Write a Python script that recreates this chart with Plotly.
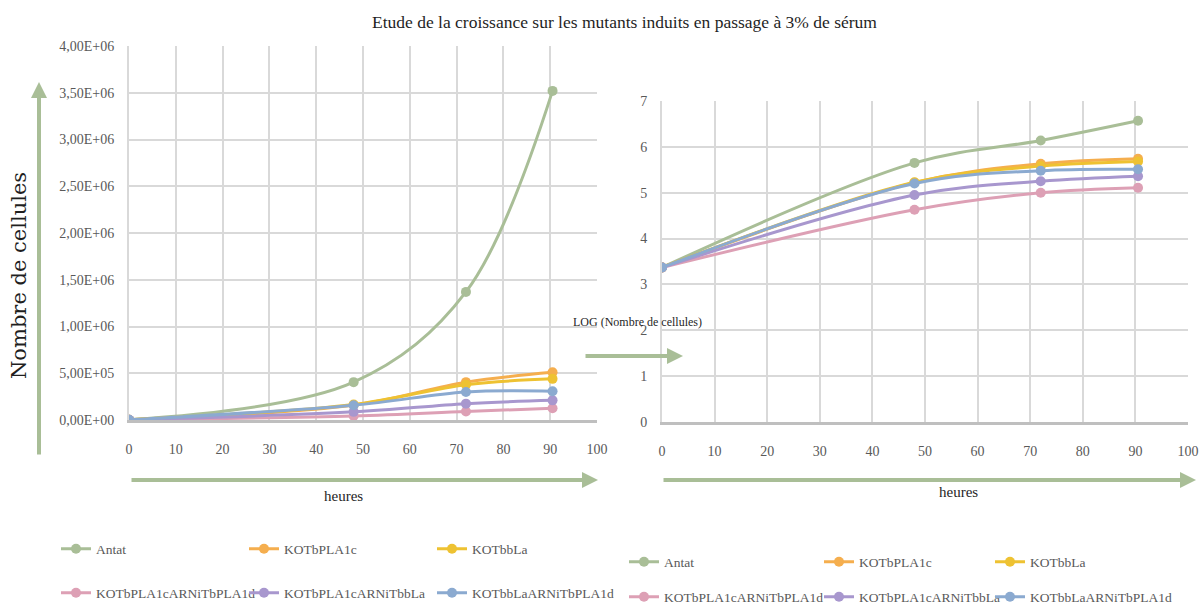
import plotly.graph_objects as go

# ---------------- data ----------------
hours = [0, 48, 72, 90.5]
series_names = ["Antat", "KOTbPLA1c", "KOTbbLa",
                "KOTbPLA1cARNiTbPLA1d", "KOTbPLA1cARNiTbbLa", "KOTbbLaARNiTbPLA1d"]
colors = ["#A9BE97", "#F5AE4E", "#EEC232", "#DDA0B5", "#A897CE", "#8BAAD0"]

# cell counts (left chart)
antat_n = [2300, 405000, 1370000, 3520000]
kotbpla1c_n = [2300, 160000, 405000, 510000]
kotbbla_n = [2300, 165000, 378000, 440000]
kotbpla1c_arni_tbpla1d_n = [2300, 42000, 90000, 126000]
kotbpla1c_arni_tbbla_n = [2300, 87000, 175000, 210000]
kotbbla_arni_tbpla1d_n = [2300, 158000, 300000, 308000]

# log of cell counts (right chart)
antat_log = [3.37, 5.65, 6.14, 6.57]
kotbpla1c_log = [3.37, 5.22, 5.63, 5.74]
kotbbla_log = [3.37, 5.23, 5.58, 5.68]
kotbpla1c_arni_tbpla1d_log = [3.37, 4.63, 5.00, 5.11]
kotbpla1c_arni_tbbla_log = [3.37, 4.95, 5.25, 5.36]
kotbbla_arni_tbpla1d_log = [3.37, 5.20, 5.48, 5.51]

counts = [antat_n, kotbpla1c_n, kotbbla_n,
          kotbpla1c_arni_tbpla1d_n, kotbpla1c_arni_tbbla_n, kotbbla_arni_tbpla1d_n]
logs = [antat_log, kotbpla1c_log, kotbbla_log,
        kotbpla1c_arni_tbpla1d_log, kotbpla1c_arni_tbbla_log, kotbbla_arni_tbpla1d_log]

x_ticks = [0, 10, 20, 30, 40, 50, 60, 70, 80, 90, 100]
left_y_ticks = [0, 500000, 1000000, 1500000, 2000000, 2500000, 3000000, 3500000, 4000000]
left_y_labels = ["0,00E+00", "5,00E+05", "1,00E+06", "1,50E+06", "2,00E+06",
                 "2,50E+06", "3,00E+06", "3,50E+06", "4,00E+06"]
right_y_ticks = [0, 1, 2, 3, 4, 5, 6, 7]

title_text = "Etude de la croissance sur les mutants induits en passage à 3% de sérum"

# ---------------- styling ----------------
FONT = "Liberation Serif"
GREY = "#595959"
GRID = "#D9D9D9"
ARROW = "#A9BE97"
W, H = 1200, 608

def px_x(p):
    return p / W

def px_y(p):
    return 1 - p / H

# legend cell positions (line start x, row centre y) in pixels
left_leg_pos = [(64, 549), (252, 549), (440, 549), (64, 593), (252, 593), (440, 593)]
right_leg_pos = [(632, 562), (827, 562), (998, 562), (632, 597), (827, 597), (998, 597)]

fig = go.Figure()
legend_layout = {}
n_leg = 0
for panel, (data, xa, ya, positions) in enumerate([
        (counts, "x", "y", left_leg_pos), (logs, "x2", "y2", right_leg_pos)]):
    for i, name in enumerate(series_names):
        n_leg += 1
        key = "legend" if n_leg == 1 else f"legend{n_leg}"
        fig.add_trace(go.Scatter(
            x=hours, y=data[i], name=name, mode="lines+markers",
            line=dict(color=colors[i], width=3, shape="spline", smoothing=1),
            marker=dict(color=colors[i], size=10, symbol="circle"),
            xaxis=xa, yaxis=ya, legend=key, showlegend=True,
        ))
        lx, ly = positions[i]
        legend_layout[key] = dict(
            x=px_x(lx - 8), y=px_y(ly), xanchor="left", yanchor="middle",
            orientation="h", itemwidth=30, bgcolor="rgba(0,0,0,0)",
            font=dict(family=FONT, size=13.5, color=GREY),
        )

axis_common = dict(
    showgrid=True, gridcolor=GRID, gridwidth=2, zeroline=False,
    tickfont=dict(family=FONT, size=14, color=GREY), ticks="",
)

fig.update_layout(
    width=W, height=H, autosize=False,
    margin=dict(l=0, r=0, t=0, b=0, autoexpand=False),
    paper_bgcolor="white", plot_bgcolor="white",
    font=dict(family=FONT, color=GREY),
    xaxis=dict(domain=[px_x(129), px_x(597)], range=[0, 100], tickvals=x_ticks,
               anchor="y", showline=True, linecolor="#BFBFBF", linewidth=3,
               ticklabelstandoff=14, **axis_common),
    yaxis=dict(domain=[px_y(420), px_y(46)], range=[0, 4000000], tickvals=left_y_ticks,
               ticktext=left_y_labels, anchor="x", showline=True, linecolor=GRID,
               linewidth=2, ticklabelstandoff=10, **axis_common),
    xaxis2=dict(domain=[px_x(662), px_x(1188)], range=[0, 100], tickvals=x_ticks,
                anchor="y2", showline=True, linecolor="#BFBFBF", linewidth=3,
                ticklabelstandoff=14, **axis_common),
    yaxis2=dict(domain=[px_y(422), px_y(101)], range=[0, 7], tickvals=right_y_ticks,
                anchor="x2", showline=True, linecolor=GRID, linewidth=2,
                ticklabelstandoff=10, **axis_common),
    **legend_layout,
)

annotations = [
    dict(text=title_text, x=px_x(624), y=px_y(22), xref="paper", yref="paper",
         showarrow=False, font=dict(family=FONT, size=17.5, color="#1F1F1F"),
         xanchor="center", yanchor="middle"),
    dict(text="Nombre de cellules", x=px_x(19), y=px_y(276), xref="paper", yref="paper",
         showarrow=False, textangle=-90, font=dict(family="DejaVu Serif", size=21, color="#1F1F1F"),
         xanchor="center", yanchor="middle"),
    dict(text="heures", x=px_x(343), y=px_y(496), xref="paper", yref="paper",
         showarrow=False, font=dict(family=FONT, size=15, color="#1F1F1F"),
         xanchor="center", yanchor="middle"),
    dict(text="heures", x=px_x(958), y=px_y(492), xref="paper", yref="paper",
         showarrow=False, font=dict(family=FONT, size=15, color="#1F1F1F"),
         xanchor="center", yanchor="middle"),
    dict(text="LOG (Nombre de cellules)", x=px_x(637), y=px_y(322), xref="paper", yref="paper",
         showarrow=False, font=dict(family=FONT, size=12, color="#1F1F1F"),
         xanchor="center", yanchor="middle"),
]
# arrows: (tip_x, tip_y, tail_x, tail_y) in pixels
arrows = [
    (39, 82, 39, 456),
    (598, 480, 130, 480),
    (1196, 480, 662, 480),
    (683, 356, 584, 356),
]
for tx, ty, sx, sy in arrows:
    annotations.append(dict(
        text="", x=px_x(tx), y=px_y(ty), xref="paper", yref="paper",
        ax=sx - tx, ay=sy - ty, axref="pixel", ayref="pixel",
        showarrow=True, arrowhead=2, arrowsize=0.8, arrowwidth=4,
        arrowcolor=ARROW, standoff=0, startstandoff=0,
    ))
fig.update_layout(annotations=annotations)

fig.write_html("out.html", config={"displayModeBar": False},
               post_script="document.body.style.margin='0';")
